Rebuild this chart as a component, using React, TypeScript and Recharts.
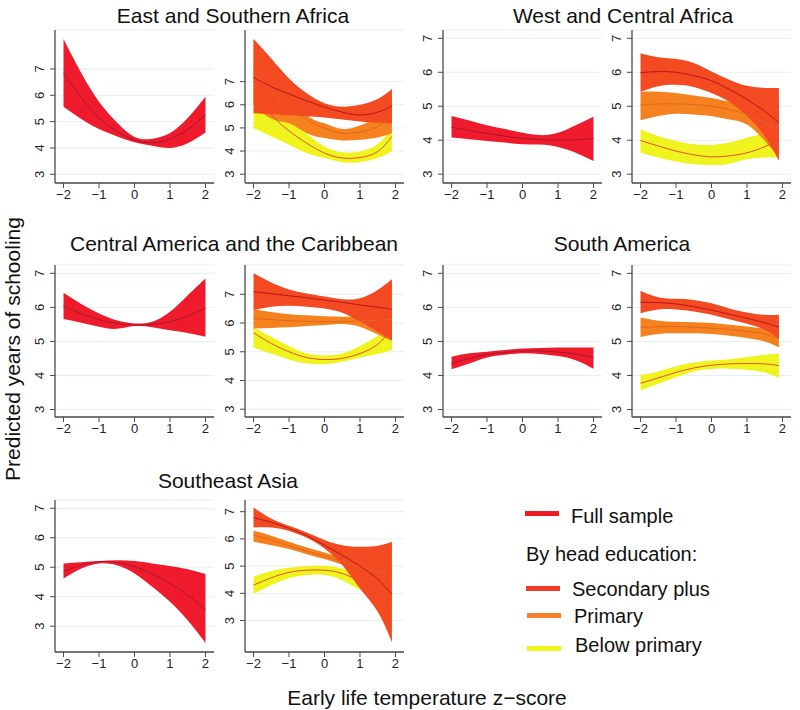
import React from "react";
import { ComposedChart, Area, Line, XAxis, YAxis, CartesianGrid } from "recharts";

const X_FULL = [-2, -1.5, -1, -0.5, 0, 0.5, 1, 1.5, 2];
const X_EDU = [-2, -1.5, -1, -0.5, 0, 0.5, 1, 1.5, 1.9];
const X_TICKS = [-2, -1, 0, 1, 2];
const Y_TICKS = [3, 4, 5, 6, 7];

// East and Southern Africa
const esaFull = {
  lo: [5.57, 5.1, 4.72, 4.45, 4.22, 4.08, 4.0, 4.18, 4.59],
  mid: [6.85, 5.92, 5.14, 4.63, 4.3, 4.2, 4.34, 4.7, 5.25],
  hi: [8.14, 6.85, 5.76, 4.98, 4.42, 4.35, 4.57, 5.14, 5.95],
};
const esaBelow = {
  lo: [4.99, 4.63, 4.27, 3.91, 3.7, 3.52, 3.52, 3.7, 3.98],
  mid: [6.35, 5.56, 4.87, 4.34, 3.91, 3.7, 3.72, 3.98, 4.63],
  hi: [7.6, 6.5, 5.45, 4.75, 4.2, 3.95, 3.98, 4.3, 5.0],
};
const esaPrimary = {
  lo: [6.0, 5.4, 5.2, 4.77, 4.56, 4.46, 4.49, 4.59, 4.77],
  mid: [7.43, 6.57, 5.92, 5.35, 4.99, 4.77, 4.82, 5.06, 5.56],
  hi: [8.8, 7.6, 6.6, 5.56, 5.2, 4.95, 5.1, 5.5, 6.3],
};
const esaSecondary = {
  lo: [5.63, 5.59, 5.55, 5.5, 5.45, 5.36, 5.28, 5.22, 5.2],
  mid: [7.17, 6.78, 6.47, 6.17, 5.9, 5.68, 5.56, 5.68, 5.95],
  hi: [8.84, 8.0, 7.14, 6.5, 6.07, 5.92, 6.0, 6.25, 6.68],
};

// West and Central Africa
const wcaFull = {
  lo: [4.08, 4.03, 3.98, 3.93, 3.88, 3.87, 3.8, 3.63, 3.39],
  mid: [4.38, 4.29, 4.2, 4.12, 4.05, 4.02, 4.0, 4.01, 4.05],
  hi: [4.71, 4.58, 4.44, 4.33, 4.22, 4.15, 4.22, 4.44, 4.69],
};
const wcaBelow = {
  lo: [3.63, 3.49, 3.37, 3.29, 3.27, 3.31, 3.44, 3.49, 3.49],
  mid: [3.99, 3.83, 3.68, 3.57, 3.51, 3.54, 3.63, 3.81, 4.02],
  hi: [4.32, 4.12, 3.98, 3.88, 3.86, 3.93, 4.07, 4.22, 4.35],
};
const wcaPrimary = {
  lo: [4.59, 4.71, 4.78, 4.76, 4.71, 4.61, 4.46, 3.98, 3.5],
  mid: [5.03, 5.07, 5.07, 5.05, 5.0, 4.9, 4.76, 4.51, 4.27],
  hi: [5.42, 5.43, 5.39, 5.32, 5.24, 5.13, 5.0, 4.95, 5.1],
};
const wcaSecondary = {
  lo: [5.42, 5.59, 5.63, 5.57, 5.39, 5.13, 4.71, 4.12, 3.39],
  mid: [5.99, 6.02, 6.0, 5.9, 5.75, 5.5, 5.2, 4.85, 4.51],
  hi: [6.56, 6.44, 6.39, 6.27, 6.02, 5.78, 5.6, 5.54, 5.54],
};

// Central America and the Caribbean
const cacFull = {
  lo: [5.66, 5.55, 5.43, 5.37, 5.45, 5.42, 5.33, 5.25, 5.14],
  mid: [6.05, 5.82, 5.64, 5.53, 5.49, 5.5, 5.58, 5.74, 5.98],
  hi: [6.43, 6.1, 5.82, 5.62, 5.53, 5.58, 5.87, 6.36, 6.85],
};
const cacBelow = {
  lo: [5.15, 4.94, 4.73, 4.59, 4.57, 4.65, 4.8, 4.92, 5.06],
  mid: [5.66, 5.29, 5.0, 4.8, 4.73, 4.77, 4.94, 5.26, 5.81],
  hi: [5.85, 5.52, 5.2, 4.94, 4.88, 4.94, 5.2, 5.55, 5.87],
};
const cacPrimary = {
  lo: [5.81, 5.83, 5.85, 5.9, 5.93, 5.97, 5.87, 5.6, 5.38],
  mid: [6.16, 6.12, 6.08, 6.06, 6.05, 6.05, 6.07, 6.1, 6.13],
  hi: [6.48, 6.38, 6.31, 6.27, 6.24, 6.22, 6.22, 6.25, 6.3],
};
const cacSecondary = {
  lo: [6.45, 6.57, 6.6, 6.57, 6.51, 6.36, 6.05, 5.7, 5.41],
  mid: [7.09, 7.02, 6.95, 6.88, 6.8, 6.72, 6.63, 6.55, 6.48],
  hi: [7.73, 7.41, 7.17, 7.03, 6.92, 6.83, 6.86, 7.15, 7.52],
};

// South America
const saFull = {
  lo: [4.18, 4.35, 4.53, 4.61, 4.65, 4.63, 4.57, 4.45, 4.2],
  mid: [4.35, 4.5, 4.62, 4.68, 4.72, 4.72, 4.69, 4.63, 4.52],
  hi: [4.55, 4.65, 4.7, 4.75, 4.79, 4.81, 4.82, 4.82, 4.82],
};
const saBelow = {
  lo: [3.56, 3.76, 3.95, 4.12, 4.19, 4.2, 4.17, 4.09, 3.93],
  mid: [3.77, 3.93, 4.09, 4.22, 4.3, 4.34, 4.35, 4.34, 4.29],
  hi: [4.02, 4.12, 4.27, 4.38, 4.44, 4.48, 4.54, 4.61, 4.64],
};
const saPrimary = {
  lo: [5.13, 5.22, 5.24, 5.24, 5.22, 5.17, 5.1, 5.0, 4.83],
  mid: [5.42, 5.43, 5.44, 5.42, 5.39, 5.35, 5.29, 5.22, 5.07],
  hi: [5.7, 5.61, 5.58, 5.56, 5.54, 5.49, 5.44, 5.38, 5.3],
};
const saSecondary = {
  lo: [5.83, 5.94, 5.94, 5.88, 5.78, 5.65, 5.52, 5.34, 5.07],
  mid: [6.15, 6.14, 6.1, 6.02, 5.92, 5.8, 5.68, 5.55, 5.42],
  hi: [6.49, 6.3, 6.25, 6.22, 6.12, 5.97, 5.85, 5.78, 5.78],
};

// Southeast Asia
const seaFull = {
  lo: [4.62, 4.96, 5.13, 5.07, 4.79, 4.34, 3.83, 3.2, 2.43],
  mid: [4.87, 5.07, 5.19, 5.16, 5.02, 4.77, 4.45, 4.05, 3.57],
  hi: [5.13, 5.17, 5.21, 5.24, 5.21, 5.13, 5.04, 4.93, 4.77],
};
const seaBelow = {
  lo: [3.98, 4.3, 4.55, 4.67, 4.67, 4.48, 4.12, 3.8, 3.45],
  mid: [4.3, 4.57, 4.77, 4.85, 4.85, 4.73, 4.45, 4.12, 3.75],
  hi: [4.61, 4.82, 4.94, 5.0, 5.01, 4.91, 4.67, 4.4, 4.1],
};
const seaPrimary = {
  lo: [5.9, 5.77, 5.63, 5.44, 5.26, 5.05, 4.85, 4.65, 4.45],
  mid: [6.14, 5.96, 5.75, 5.55, 5.37, 5.16, 4.98, 4.79, 4.61],
  hi: [6.3, 6.12, 5.9, 5.68, 5.5, 5.3, 5.12, 4.95, 4.78],
};
const seaSecondary = {
  lo: [6.42, 6.42, 6.29, 6.04, 5.65, 5.04, 4.18, 3.32, 2.19],
  mid: [6.78, 6.61, 6.39, 6.12, 5.77, 5.4, 5.0, 4.52, 3.96],
  hi: [7.15, 6.75, 6.48, 6.24, 5.96, 5.77, 5.71, 5.75, 5.9],
};

const FULL = { fill: "#ef1b2d", line: "#a8172f" };
const SEC = { fill: "#f44a22", line: "#b5161c" };
const PRIM = { fill: "#f6821f", line: "#e5651b" };
const BELOW = { fill: "#eff41f", line: "#e2521b" };

const FONT = "'Liberation Sans', Arial, Helvetica, sans-serif";
const AXIS = "#4a4a4a";
const PLOT_W = 159;
const CURVE = "natural";

const fmtX = (v: number) => (v < 0 ? `\u2212${-v}` : `${v}`);

const YTick = (props: any) => {
  const { x, y, payload } = props;
  return (
    <text
      transform={`translate(${x - 4},${y}) rotate(-90)`}
      textAnchor="middle"
      fontSize={13}
      fill="#222"
      fontFamily={FONT}
    >
      {payload.value}
    </text>
  );
};

type Series = { data: { lo: number[]; mid: number[]; hi: number[] }; color: { fill: string; line: string } };

function Panel({ x0, y0, y1, yDomain, xs, series }: {
  x0: number; y0: number; y1: number; yDomain: [number, number]; xs: number[]; series: Series[];
}) {
  const rows = xs.map((x, i) => {
    const r: any = { x };
    series.forEach((s, k) => {
      r["b" + k] = [s.data.lo[i], s.data.hi[i]];
      r["m" + k] = s.data.mid[i];
    });
    return r;
  });
  return (
    <div style={{ position: "absolute", left: x0 - 30, top: y0 - 4 }}>
      <ComposedChart
        width={PLOT_W + 34}
        height={y1 - y0 + 28}
        data={rows}
        margin={{ top: 4, right: 4, bottom: 0, left: 0 }}
      >
        <CartesianGrid vertical={false} stroke="#e6eff0" />
        <XAxis
          type="number"
          dataKey="x"
          domain={[-2.24, 2.24]}
          ticks={X_TICKS}
          allowDataOverflow
          height={24}
          tickSize={5}
          tickFormatter={fmtX}
          tick={{ fontSize: 13, fill: "#222", fontFamily: FONT }}
          axisLine={{ stroke: AXIS, strokeWidth: 1.3 }}
          tickLine={{ stroke: AXIS }}
        />
        <YAxis
          type="number"
          domain={yDomain}
          ticks={Y_TICKS}
          allowDataOverflow
          width={30}
          tickSize={5}
          tick={YTick}
          axisLine={{ stroke: AXIS, strokeWidth: 1.3 }}
          tickLine={{ stroke: AXIS }}
        />
        {series.map((s, k) => (
          <Area
            key={"a" + k}
            dataKey={"b" + k}
            type={CURVE}
            fill={s.color.fill}
            fillOpacity={1}
            stroke="none"
            dot={false}
            activeDot={false}
            isAnimationActive={false}
          />
        ))}
        {series.map((s, k) => (
          <Line
            key={"l" + k}
            dataKey={"m" + k}
            type={CURVE}
            stroke={s.color.line}
            strokeWidth={1}
            dot={false}
            activeDot={false}
            isAnimationActive={false}
          />
        ))}
      </ComposedChart>
    </div>
  );
}

const edu = (below: any, prim: any, sec: any): Series[] => [
  { data: below, color: BELOW },
  { data: prim, color: PRIM },
  { data: sec, color: SEC },
];

export default function App() {
  return (
    <div style={{ position: "absolute", left: 0, top: 0, width: 800, height: 710, background: "#fff", fontFamily: FONT }}>
      <Panel x0={55} y0={30} y1={183} yDomain={[2.67, 8.48]} xs={X_FULL} series={[{ data: esaFull, color: FULL }]} />
      <Panel x0={245} y0={30} y1={183} yDomain={[2.62, 9.23]} xs={X_EDU} series={edu(esaBelow, esaPrimary, esaSecondary)} />
      <Panel x0={443} y0={30} y1={183} yDomain={[2.74, 7.245]} xs={X_FULL} series={[{ data: wcaFull, color: FULL }]} />
      <Panel x0={632} y0={30} y1={183} yDomain={[2.74, 7.245]} xs={X_EDU} series={edu(wcaBelow, wcaPrimary, wcaSecondary)} />

      <Panel x0={55} y0={265} y1={417} yDomain={[2.78, 7.245]} xs={X_FULL} series={[{ data: cacFull, color: FULL }]} />
      <Panel x0={245} y0={265} y1={417} yDomain={[2.73, 8.02]} xs={X_EDU} series={edu(cacBelow, cacPrimary, cacSecondary)} />
      <Panel x0={443} y0={265} y1={417} yDomain={[2.78, 7.245]} xs={X_FULL} series={[{ data: saFull, color: FULL }]} />
      <Panel x0={632} y0={265} y1={417} yDomain={[2.78, 7.245]} xs={X_EDU} series={edu(saBelow, saPrimary, saSecondary)} />

      <Panel x0={55} y0={500} y1={652} yDomain={[2.126, 7.28]} xs={X_FULL} series={[{ data: seaFull, color: FULL }]} />
      <Panel x0={245} y0={500} y1={652} yDomain={[1.843, 7.43]} xs={X_EDU} series={edu(seaBelow, seaPrimary, seaSecondary)} />

      <svg width={800} height={710} style={{ position: "absolute", left: 0, top: 0, pointerEvents: "none" }} fontFamily={FONT} fill="#111">
        <text x={233} y={23} fontSize={21} textAnchor="middle">East and Southern Africa</text>
        <text x={623} y={23} fontSize={21} textAnchor="middle">West and Central Africa</text>
        <text x={234} y={251} fontSize={21} textAnchor="middle">Central America and the Caribbean</text>
        <text x={622} y={251} fontSize={21} textAnchor="middle">South America</text>
        <text x={228} y={488} fontSize={21} textAnchor="middle">Southeast Asia</text>

        <text transform="translate(20,349) rotate(-90)" fontSize={21} textAnchor="middle">Predicted years of schooling</text>
        <text x={427} y={705} fontSize={21} textAnchor="middle">Early life temperature z−score</text>

        <rect x={525} y={511} width={34} height={5} fill="#ee1c25" />
        <text x={571} y={523} fontSize={20}>Full sample</text>
        <text x={526} y={561} fontSize={20}>By head education:</text>
        <rect x={526} y={586} width={34} height={5} fill="#ef3b23" />
        <text x={572} y={596} fontSize={20}>Secondary plus</text>
        <rect x={527} y={613} width={34} height={5} fill="#f57f29" />
        <text x={574} y={623} fontSize={20}>Primary</text>
        <rect x={527} y={646} width={34} height={5} fill="#f1f41c" />
        <text x={575} y={652} fontSize={20}>Below primary</text>
      </svg>
    </div>
  );
}
